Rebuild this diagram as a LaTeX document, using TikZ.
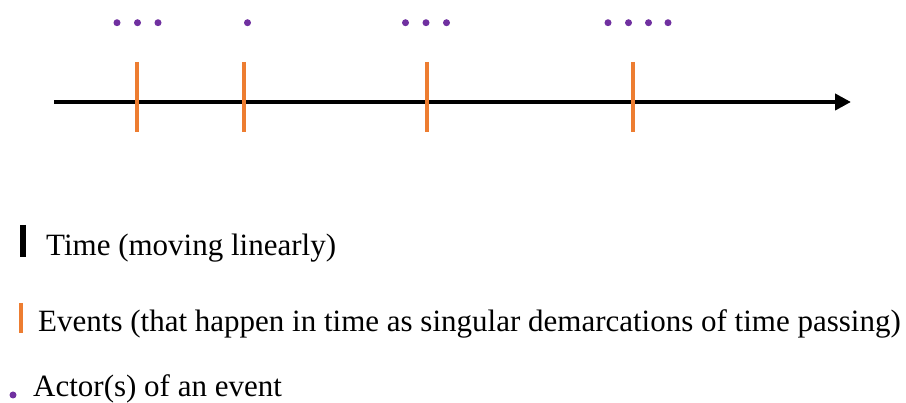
\documentclass[tikz,border=0pt]{standalone}
\usepackage{fontspec}
\setmainfont{Liberation Serif}
\usetikzlibrary{arrows.meta}
\definecolor{evorange}{HTML}{ED7D31}
\definecolor{actpurple}{HTML}{7030A0}
\tikzset{
  timeline/.style={line width=4pt, -{Triangle[length=16pt,width=16pt]}},
  eventtick/.style={draw=evorange, line width=4pt},
  actordot/.style={circle, fill=actpurple, inner sep=0pt, minimum size=7pt},
  legendtext/.style={anchor=base west, inner sep=0pt, font=\fontsize{31}{37}\selectfont},
}
\begin{document}
\begin{tikzpicture}[x=1pt,y=-1pt]
\useasboundingbox (0,0) rectangle (906,403);
% time axis
\coordinate (ts) at (54,102);
\coordinate (te) at (851,102);
\draw[timeline] (ts) -- (te);
% event ticks
\foreach \n/\x in {e1/137, e2/244, e3/427, e4/633} {
  \coordinate (\n t) at (\x,62);
  \coordinate (\n b) at (\x,132);
  \draw[eventtick] (\n t) -- (\n b);
}
% actors
\foreach \n/\x in {a11/117, a12/137.5, a13/158, a21/247.5, a31/405.5, a32/426, a33/446.5, a41/608, a42/628.5, a43/648.5, a44/668} {
  \node[actordot] (\n) at (\x,22.7) {};
}
% legend
\coordinate (lt1) at (23,225);
\coordinate (lt2) at (23,257);
\draw[line width=5.5pt] (lt1) -- (lt2);
\node[legendtext] (ltime) at (46,256) {Time (moving linearly)};
\coordinate (le1) at (21,303);
\coordinate (le2) at (21,333);
\draw[draw=evorange, line width=4.5pt] (le1) -- (le2);
\node[legendtext] (levents) at (38,332) {Events (that happen in time as singular demarcations of time passing)};
\node[actordot] (ladot) at (13,395) {};
\node[legendtext] (lactor) at (33,397) {Actor(s) of an event};
\end{tikzpicture}
\end{document}
